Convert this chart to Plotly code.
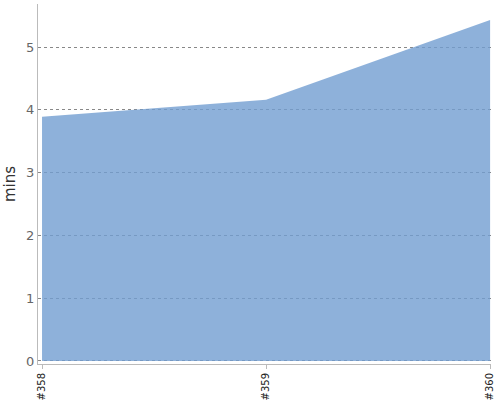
import plotly.graph_objects as go

# build labels and time taken (minutes)
builds = ['#358', '#359', '#360']
mins = [3.89, 4.16, 5.43]

fig = go.Figure()
fig.add_trace(go.Scatter(
    x=builds,
    y=mins,
    mode='lines',
    line=dict(width=0, color='rgba(114,158,209,0.8)'),
    fill='tozeroy',
    fillcolor='rgba(114,158,209,0.8)',
    hoverinfo='x+y',
))

fig.update_layout(
    width=500,
    height=400,
    margin=dict(l=38, r=9, t=4, b=36),
    plot_bgcolor='white',
    paper_bgcolor='white',
    showlegend=False,
    font=dict(family='DejaVu Sans', color='#555'),
)

fig.update_xaxes(
    type='category',
    range=[-0.018, 2.004],
    automargin=False,
    showgrid=False,
    showline=True,
    linecolor='#bbb',
    linewidth=1,
    ticks='outside',
    ticklen=4,
    tickcolor='#bbb',
    tickangle=-90,
    tickfont=dict(size=10, color='#222'),
)

fig.update_yaxes(
    range=[-0.048, 5.685],
    automargin=False,
    tickvals=[0, 1, 2, 3, 4, 5],
    showgrid=True,
    gridcolor='#888',
    griddash='dot',
    gridwidth=1,
    zeroline=False,
    showline=True,
    linecolor='#bbb',
    linewidth=1,
    ticks='',
    tickfont=dict(size=13, color='#666'),
    title=dict(text='mins', font=dict(size=15, color='#333'), standoff=6),
)

# drop the default page margin so the chart sits in the corner
fig.write_html("out.html", config={'displayModeBar': False},
               post_script="document.body.style.margin='0';")
